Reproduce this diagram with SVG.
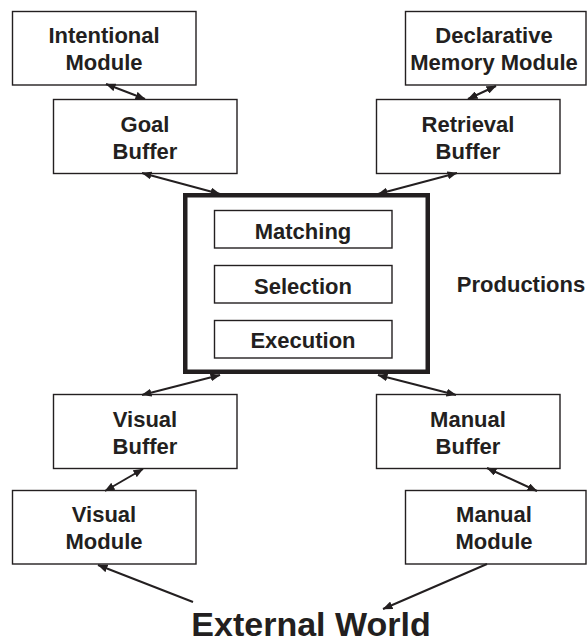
<svg xmlns="http://www.w3.org/2000/svg" width="587" height="644" viewBox="0 0 587 644">
<defs>
<marker id="ah" viewBox="0 0 10 8" refX="9.5" refY="4" markerWidth="10" markerHeight="8" markerUnits="userSpaceOnUse" orient="auto-start-reverse">
<path d="M0,0 L10,4 L0,8 z" fill="#231f20"/>
</marker>
<style>
.box{fill:#fff;stroke:#231f20;stroke-width:1.4}
.big{fill:#fff;stroke:#231f20;stroke-width:4.5}
.t{font-family:"Liberation Sans",Arial,sans-serif;font-weight:bold;font-size:22px;fill:#231f20;text-anchor:middle}
.c{stroke:#231f20;stroke-width:2;fill:none}
.bi{marker-start:url(#ah);marker-end:url(#ah)}
.one{marker-end:url(#ah)}
</style>
</defs>
<rect width="587" height="644" fill="#fff"/>
<g id="intentional-module"><rect class="box" x="12.5" y="11.5" width="183.5" height="73.5"/><text class="t" x="104" y="43">Intentional</text><text class="t" x="104" y="70">Module</text></g>
<g id="declarative-memory-module"><rect class="box" x="405.5" y="11.5" width="180.5" height="73.5"/><text class="t" x="494" y="43">Declarative</text><text class="t" x="494" y="70">Memory Module</text></g>
<g id="goal-buffer"><rect class="box" x="53.5" y="99.5" width="183.5" height="74"/><text class="t" x="145" y="132">Goal</text><text class="t" x="145" y="159">Buffer</text></g>
<g id="retrieval-buffer"><rect class="box" x="376.5" y="99.5" width="183.5" height="74"/><text class="t" x="468" y="132">Retrieval</text><text class="t" x="468" y="159">Buffer</text></g>
<g id="productions"><rect class="big" x="185.25" y="195.25" width="242.5" height="176.5"/>
<rect class="box" x="214.5" y="210.5" width="177.5" height="37.5"/><text class="t" x="303" y="239">Matching</text>
<rect class="box" x="214.5" y="265.5" width="177.5" height="37.5"/><text class="t" x="303" y="294">Selection</text>
<rect class="box" x="214.5" y="320.5" width="177.5" height="37.5"/><text class="t" x="303" y="348">Execution</text>
</g>
<g id="productions-label"><text class="t" x="521" y="292">Productions</text></g>
<g id="visual-buffer"><rect class="box" x="53.5" y="394.5" width="183.5" height="74"/><text class="t" x="145" y="427">Visual</text><text class="t" x="145" y="454">Buffer</text></g>
<g id="manual-buffer"><rect class="box" x="376.5" y="394.5" width="183.5" height="74"/><text class="t" x="468" y="427">Manual</text><text class="t" x="468" y="454">Buffer</text></g>
<g id="visual-module"><rect class="box" x="12.5" y="490.5" width="183.5" height="73.5"/><text class="t" x="104" y="522">Visual</text><text class="t" x="104" y="549">Module</text></g>
<g id="manual-module"><rect class="box" x="405.5" y="490.5" width="180.5" height="73.5"/><text class="t" x="494" y="522">Manual</text><text class="t" x="494" y="549">Module</text></g>
<g id="external-world"><text class="t" x="311" y="636" style="font-size:34px">External World</text></g>
<g id="connectors">
<line class="c bi" x1="106" y1="84" x2="145" y2="99"/>
<line class="c bi" x1="142" y1="173" x2="220" y2="194"/>
<line class="c bi" x1="496" y1="86" x2="468" y2="99"/>
<line class="c bi" x1="457" y1="173" x2="378" y2="194"/>
<line class="c bi" x1="220" y1="375" x2="142" y2="395"/>
<line class="c bi" x1="378" y1="375" x2="456" y2="395"/>
<line class="c bi" x1="143" y1="469" x2="105" y2="491"/>
<line class="c bi" x1="487" y1="468" x2="537" y2="491"/>
<line class="c one" x1="193" y1="602" x2="98" y2="565"/>
<line class="c one" x1="487" y1="564" x2="383" y2="609"/>
</g>
</svg>
